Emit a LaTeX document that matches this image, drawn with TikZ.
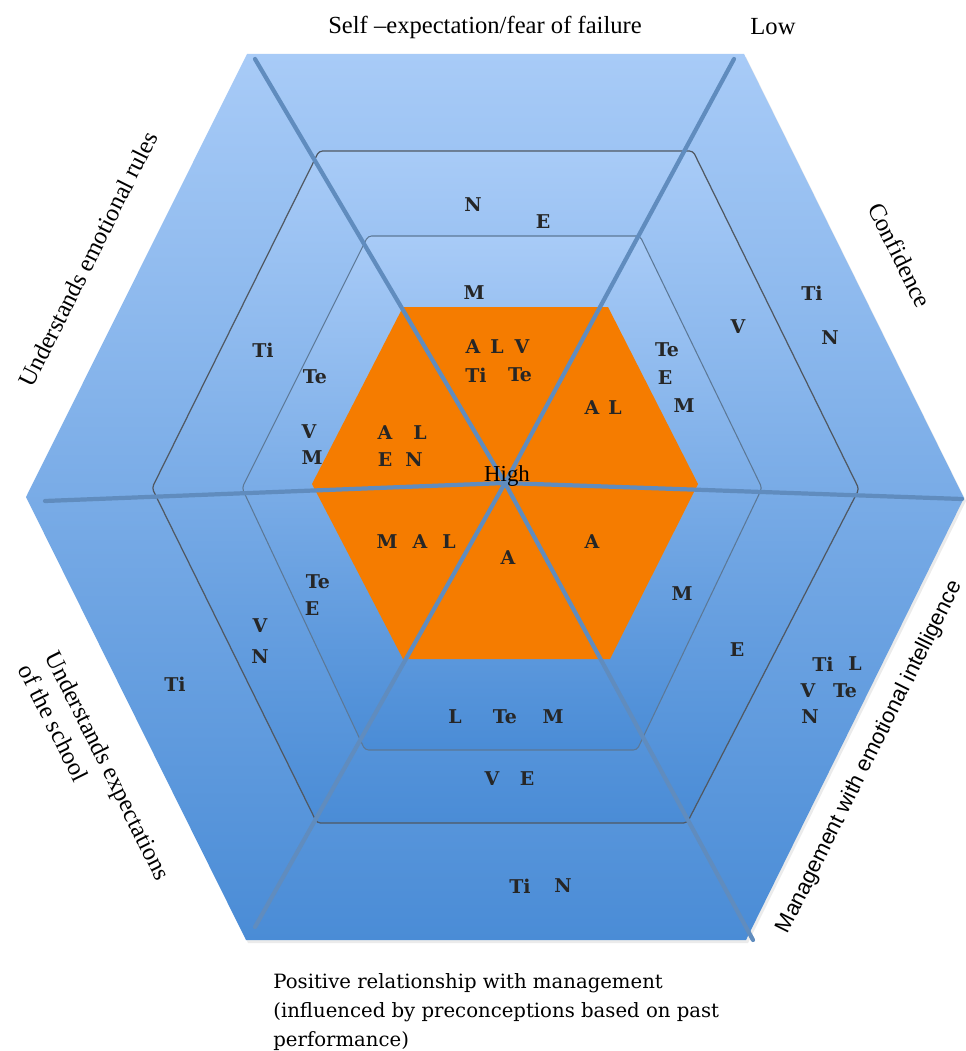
\documentclass[tikz,border=0pt]{standalone}
\usepackage{fontspec}
\setmainfont{Liberation Serif}
\newfontfamily\cellfont{DejaVu Serif}
\newfontfamily\mgmtfont{Liberation Sans}
\definecolor{bandtop}{RGB}{168,203,247}
\definecolor{bandbot}{RGB}{74,140,214}
\definecolor{ringgray}{RGB}{80,88,98}
\definecolor{innergray}{RGB}{92,120,150}
\definecolor{spokeblue}{RGB}{96,140,190}
\definecolor{coreorange}{RGB}{245,124,0}
\begin{document}
\begin{tikzpicture}[
    x=0.02cm, y=-0.02cm,
    band/.style={top color=bandtop, bottom color=bandbot},
    ring/.style={draw=ringgray, line width=0.7pt, rounded corners=2pt},
    inner ring/.style={draw=innergray, line width=0.6pt, rounded corners=2pt},
    spoke/.style={draw=spokeblue, line width=2.4pt, line cap=round},
    cell/.style={font=\cellfont\bfseries\fontsize{10.8}{13}\selectfont, text=black!85, inner sep=0pt},
    axis/.style={font=\fontsize{14}{17}\selectfont, inner sep=0pt}
]
    \useasboundingbox (0,0) rectangle (966,1051);
    \fill[white] (0,0) rectangle (966,1051);

    % Hexagon bands
    \fill[black, opacity=0.08, shift={(2,3)}] (247,54) -- (744,54) -- (964,498) -- (746,940) -- (246,940) -- (26,497) -- cycle;
    \path[band] (247,54) -- (744,54) -- (964,498) -- (746,940) -- (246,940) -- (26,497) -- cycle;
    \path[band, ring] (319,151) -- (693,151) -- (859,489) -- (687,823) -- (317,823) -- (152,488) -- cycle;
    \path[band, inner ring] (368,236) -- (640,236) -- (762,488) -- (637,750) -- (365,750) -- (242,488) -- cycle;
    \fill[coreorange] (403,307) -- (608,307) -- (698,484) -- (610,659) -- (403,659) -- (312,484) -- cycle;

    % Spoke ends
    \coordinate (hub) at (505,483);
    \coordinate (tl) at (255,59);
    \coordinate (br) at (753,940);
    \coordinate (tr) at (734,59);
    \coordinate (bl) at (255,927);
    \coordinate (lf) at (45,501);
    \coordinate (rt) at (962,499);

    % Spokes
    \draw[spoke] (tl) -- (hub) -- (br);
    \draw[spoke] (tr) -- (hub) -- (bl);
    \draw[spoke] (lf) -- (hub) -- (rt);

    % Axis labels
    \node[axis] (fear) at (485,27) {Self --expectation/fear of failure};
    \node[axis] (low) at (773,27) {Low};
    \node[axis, rotate=63.5] (rules) at (88,259) {Understands emotional rules};
    \node[axis, rotate=-63.5] (conf) at (900,255) {Confidence};
    \node[axis, rotate=-63.5, align=left] (school) at (95,772) {Understands expectations\\of the school};
    \node[font=\mgmtfont\fontsize{12.5}{15}\selectfont, inner sep=0pt, rotate=63.5] (emo) at (870,757) {Management with emotional intelligence};
    \node[font=\cellfont\fontsize{11.2}{16.5}\selectfont, inner sep=0pt, anchor=west, align=left] (rel) at (273,1012)
        {Positive relationship with management\\(influenced by preconceptions based on past\\performance)};
    \node[font=\fontsize{13}{15}\selectfont, inner sep=0pt] (high) at (507,476) {High};

    % Top sector
    \node[cell] (t1) at (473,205) {N};
    \node[cell] (t2) at (543,222) {E};
    \node[cell] (t3) at (474,293) {M};
    \node[cell] (t4) at (473,347) {A};
    \node[cell] (t5) at (497,347) {L};
    \node[cell] (t6) at (522,347) {V};
    \node[cell] (t7) at (476,375) {Ti};
    \node[cell] (t8) at (520,375) {Te};

    % Upper right sector
    \node[cell] (ur1) at (812,293) {Ti};
    \node[cell] (ur2) at (830,338) {N};
    \node[cell] (ur3) at (738,327) {V};
    \node[cell] (ur4) at (667,350) {Te};
    \node[cell] (ur5) at (665,378) {E};
    \node[cell] (ur6) at (684,406) {M};
    \node[cell] (ur7) at (592,408) {A};
    \node[cell] (ur8) at (615,408) {L};

    % Upper left sector
    \node[cell] (ul1) at (263,350) {Ti};
    \node[cell] (ul2) at (315,377) {Te};
    \node[cell] (ul3) at (309,432) {V};
    \node[cell] (ul4) at (312,458) {M};
    \node[cell] (ul5) at (385,433) {A};
    \node[cell] (ul6) at (420,433) {L};
    \node[cell] (ul7) at (385,460) {E};
    \node[cell] (ul8) at (414,460) {N};

    % Lower left sector
    \node[cell] (ll1) at (175,684) {Ti};
    \node[cell] (ll2) at (260,626) {V};
    \node[cell] (ll3) at (260,657) {N};
    \node[cell] (ll4) at (318,582) {Te};
    \node[cell] (ll5) at (312,609) {E};
    \node[cell] (ll6) at (387,542) {M};
    \node[cell] (ll7) at (420,542) {A};
    \node[cell] (ll8) at (449,542) {L};

    % Bottom sector
    \node[cell] (b1) at (508,558) {A};
    \node[cell] (b2) at (455,717) {L};
    \node[cell] (b3) at (505,717) {Te};
    \node[cell] (b4) at (553,717) {M};
    \node[cell] (b5) at (492,779) {V};
    \node[cell] (b6) at (527,779) {E};
    \node[cell] (b7) at (520,886) {Ti};
    \node[cell] (b8) at (563,886) {N};

    % Lower right sector
    \node[cell] (lr1) at (592,542) {A};
    \node[cell] (lr2) at (682,594) {M};
    \node[cell] (lr3) at (737,650) {E};
    \node[cell] (lr4) at (823,664) {Ti};
    \node[cell] (lr5) at (855,664) {L};
    \node[cell] (lr6) at (808,691) {V};
    \node[cell] (lr7) at (845,691) {Te};
    \node[cell] (lr8) at (810,717) {N};
\end{tikzpicture}
\end{document}
